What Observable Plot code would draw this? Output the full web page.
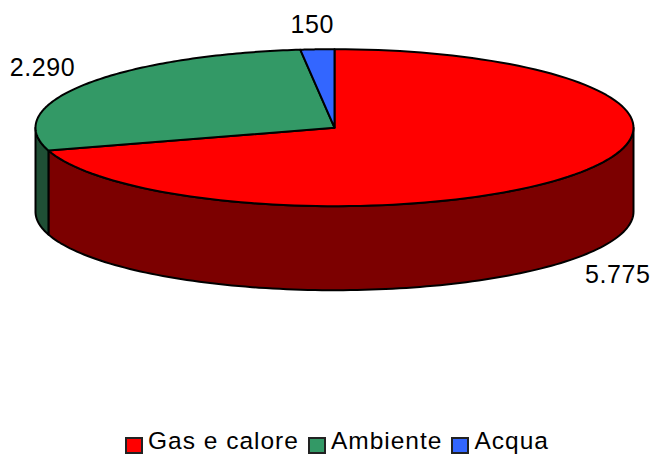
<!DOCTYPE html>
<html>
<head>
<meta charset="utf-8">
<script src="https://cdn.jsdelivr.net/npm/d3@7"></script>
<script src="https://cdn.jsdelivr.net/npm/@observablehq/plot@0.6"></script>
<style>
html,body{margin:0;padding:0;background:#fff;width:652px;height:454px;overflow:hidden;font-family:"Liberation Sans",Arial,sans-serif}
#chart svg{display:block}
#legend{position:absolute;left:125px;top:428px;height:26px;display:flex;align-items:center;font-size:24.5px;letter-spacing:1px;color:#000;white-space:nowrap;line-height:26px}
#legend span.s{display:inline-block;box-sizing:border-box;width:18px;height:17px;border:2px solid #222;margin-right:5px;margin-top:9px}
#legend span.t{margin-right:9px}
</style>
</head>
<body>
<div id="chart"></div>
<div id="legend"></div>
<script>
const categories = ["Gas e calore", "Ambiente", "Acqua"];
const values = [5775, 2290, 150];
const valueLabels = ["5.775", "2.290", "150"];
const topColors = ["#ff0000", "#339966", "#3366ff"];
const wallColors = ["#7c0000", "#1f4f35", "#1a3380"];
const labelDx = [43, -42, -5];
const labelDy = [101, -17, -24];
const depth = 1.07; // pie thickness in y-scale units (radius = 1)

const total = d3.sum(values);
let acc = 0;
const slices = categories.map((name, i) => {
  const a0 = acc / total * 2 * Math.PI;
  acc += values[i];
  return {name, i, a0, a1: acc / total * 2 * Math.PI};
});
const px = a => Math.sin(a), py = a => Math.cos(a);
const arc = (a0, a1, z = 0) => d3.range(0, 121).map(k => {
  const a = a0 + (a1 - a0) * k / 120;
  return {x: px(a), y: py(a) - z};
});
const topFace = s => [{x: 0, y: 0}, ...arc(s.a0, s.a1), {x: 0, y: 0}];
// Visible side wall of a slice: the part of its rim on the front half of the pie
const wallFace = s => {
  const lo = Math.max(s.a0, Math.PI / 2), hi = Math.min(s.a1, 3 * Math.PI / 2);
  if (hi <= lo) return null;
  const up = arc(lo, hi), down = arc(lo, hi, depth).reverse();
  return [...up, ...down, up[0]];
};
const style = {x: "x", y: "y", stroke: "#000", strokeWidth: 2, strokeLinejoin: "round"};

const marks = [];
slices.forEach(s => {
  const w = wallFace(s);
  if (w) marks.push(Plot.line(w, {...style, fill: wallColors[s.i]}));
});
slices.forEach(s => marks.push(Plot.line(topFace(s), {...style, fill: topColors[s.i]})));
slices.forEach(s => {
  const mid = (s.a0 + s.a1) / 2;
  marks.push(Plot.text([{x: px(mid), y: py(mid), t: valueLabels[s.i]}], {
    x: "x", y: "y", text: "t", dx: labelDx[s.i], dy: labelDy[s.i],
    fontSize: 25, fill: "#000", fontFamily: "Liberation Sans", textAnchor: "middle"
  }));
});

const plot = Plot.plot({
  width: 652, height: 428,
  margin: 0,
  style: {background: "#fff", overflow: "visible", letterSpacing: "0.6px"},
  x: {domain: [-1, 1], range: [35, 633], axis: null},
  y: {domain: [-1, 1], range: [205.7, 48.7], axis: null},
  marks
});
document.getElementById("chart").appendChild(plot);

const legend = document.getElementById("legend");
categories.forEach((c, i) => {
  const s = document.createElement("span");
  s.className = "s"; s.style.background = topColors[i];
  const t = document.createElement("span");
  t.className = "t"; t.textContent = c;
  legend.append(s, t);
});
</script>
</body>
</html>
